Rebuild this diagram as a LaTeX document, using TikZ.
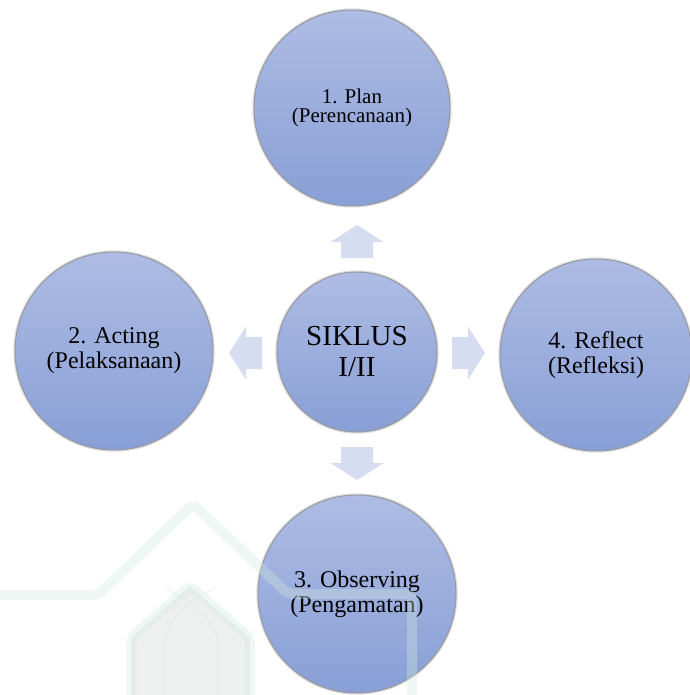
\documentclass[tikz,border=0pt]{standalone}
\usepackage{fontspec}
\setmainfont{Liberation Serif}
\definecolor{circtop}{RGB}{174,188,228}
\definecolor{circbot}{RGB}{136,159,214}
\definecolor{circedge}{RGB}{150,152,160}
\definecolor{arrowc}{RGB}{214,221,240}
\definecolor{wmline}{RGB}{210,234,224}
\definecolor{wmfill}{RGB}{222,225,224}
\tikzset{
  cyc/.style={circle, minimum size=#1, inner sep=0pt, align=center,
    top color=circtop, bottom color=circbot, draw=circedge, line width=1pt,
    preaction={draw=black!25, line width=3.5pt, opacity=0.5}},
  blk/.style={fill=arrowc, draw=none},
  wmband/.style={draw=wmline, line width=10pt, opacity=0.35, rounded corners=6pt, line join=round},
  midtxt/.style={font=\fontsize{24}{25}\selectfont},
}
\newcommand{\blockarrow}[3]{%
  \fill[blk, shift={(#1,#2)}, rotate=#3]
    (0,-16) -- (16,-16) -- (16,-26.5) -- (33,0) -- (16,26.5) -- (16,16) -- (0,16) -- cycle;}
\begin{document}
\begin{tikzpicture}[x=1pt,y=-1pt]
\useasboundingbox (0,0) rectangle (689,695);
\fill[white] (0,0) rectangle (689,695);

% circles
\node[cyc=196pt, font=\fontsize{21}{19}\selectfont] (plan) at (352,108) {1. Plan\\(Perencanaan)};
\node[cyc=160pt, font=\fontsize{29}{31}\selectfont] (sik) at (357,352) {SIKLUS\\I/II};
\node[cyc=198pt, midtxt] (act) at (114,351) {2. Acting\\(Pelaksanaan)};
\node[cyc=192pt, midtxt] (refl) at (596,355) {4. Reflect\\(Refleksi)};
\node[cyc=198pt, midtxt] (obs) at (357,594) {3. Observing\\(Pengamatan)};

% block arrows
\blockarrow{357}{258}{90}
\blockarrow{452}{353}{0}
\blockarrow{357}{447}{-90}
\blockarrow{262}{353}{180}

% faint watermark
\begin{scope}[opacity=0.5]
  \fill[wmfill] (131,695) -- (131,638) -- (190,586) -- (250,638) -- (250,695) -- cycle;
\end{scope}
\draw[wmband] (131,700) -- (131,638) -- (190,586) -- (250,638) -- (250,700);
\draw[wmband] (-5,595) -- (98,595) -- (193,504) -- (288,594) -- (412,594) -- (412,700);
\draw[draw=wmline, line width=1pt, opacity=0.5] (165,695) -- (165,640) .. controls (170,615) and (190,600) .. (215,588);
\draw[draw=wmline, line width=1pt, opacity=0.5] (218,695) -- (218,640) .. controls (212,615) and (190,600) .. (165,588);
\end{tikzpicture}
\end{document}
